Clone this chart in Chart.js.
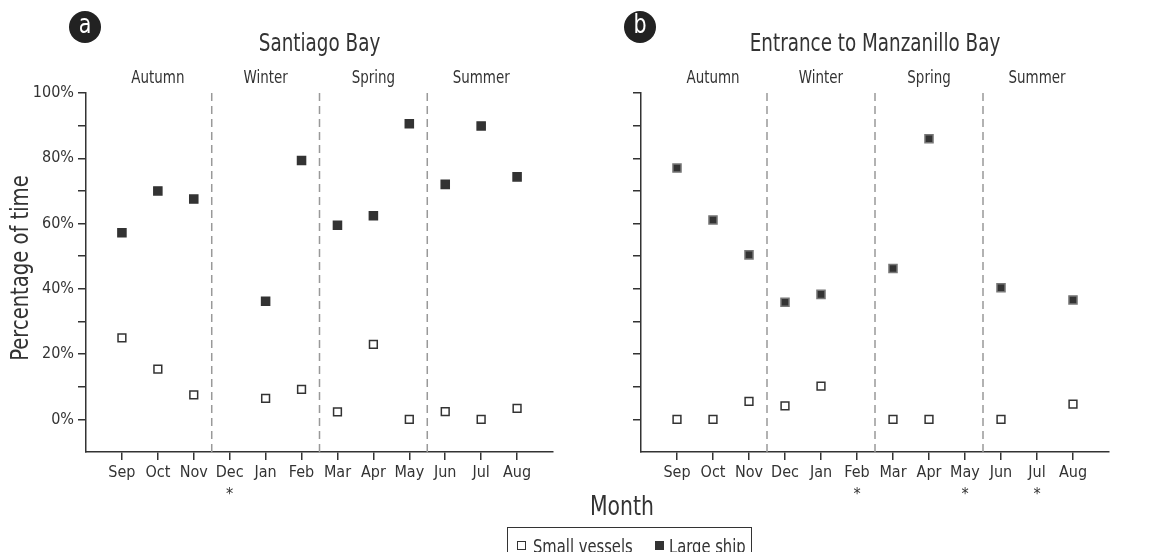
<!DOCTYPE html>
<html>
<head>
<meta charset="utf-8">
<script src="https://cdn.jsdelivr.net/npm/chart.js@4.4.0/dist/chart.umd.min.js"></script>
<style>
  body { margin: 0; background: #fff; }
  #wrap { position: relative; width: 1161px; height: 552px; overflow: hidden;
          font-family: 'DejaVu Sans Condensed', 'DejaVu Sans', sans-serif; color: #333; }
  #c1 { position: absolute; left: 0; top: 0; }
  #c2 { position: absolute; left: 570px; top: 0; }
  .txt { position: absolute; white-space: nowrap; transform-origin: left center; transform: scaleX(0.84); }
  #month { left: 590px; top: 491px; font-size: 27px; line-height: 30px; }
  #legend { position: absolute; left: 507px; top: 527px; width: 243px; height: 34px;
            border: 1px solid #333; }
  .sw { position: absolute; top: 13px; width: 7px; height: 7px; border: 1.3px solid #333; }
  .lt { top: 6px; font-size: 20px; line-height: 24px; transform: scaleX(0.82); }
</style>
</head>
<body>
<div id="wrap">
  <canvas id="c1" width="570" height="552"></canvas>
  <canvas id="c2" width="591" height="552"></canvas>
  <div id="month" class="txt">Month</div>
  <div id="legend"></div>
</div>
<script>
// month order on the x axis (Sep..Aug)
const months = ['Sep', 'Oct', 'Nov', 'Dec', 'Jan', 'Feb', 'Mar', 'Apr', 'May', 'Jun', 'Jul', 'Aug'];
const seasons = ['Autumn', 'Winter', 'Spring', 'Summer'];
const seriesNames = ['Small vessels', 'Large ship'];

// percentage of time, null = no data (*)
const santiagoSmall = [25, 15.4, 7.5, null, 6.4, 9.2, 2.3, 23, 0, 2.4, 0, 3.4];
const santiagoLarge = [57.2, 70, 67.5, null, 36.2, 79.3, 59.5, 62.4, 90.6, 72, 89.9, 74.3];
const manzSmall = [0, 0, 5.5, 4.1, 10.2, null, 0, 0, null, 0, null, 4.7];
const manzLarge = [77, 61.1, 50.4, 35.9, 38.3, null, 46.2, 86, null, 40.3, null, 36.6];

const FONT = "'DejaVu Sans Condensed', 'DejaVu Sans', sans-serif";
const INK = '#333';

function pts(arr) {
  return arr.map((v, i) => ({x: i + 1, y: v})).filter(p => p.y !== null);
}

// narrow text: the original uses a condensed face
function squeezed(ctx, text, x, y, size, sx, rot) {
  ctx.save();
  ctx.translate(x, y);
  if (rot) ctx.rotate(rot);
  ctx.scale(sx, 1);
  ctx.font = size + 'px ' + FONT;
  ctx.fillText(text, 0, 0);
  ctx.restore();
}

const decor = {
  id: 'decor',
  beforeDatasetsDraw(chart) {
    const {ctx, chartArea: a, scales: {x}} = chart;
    ctx.save();
    ctx.strokeStyle = '#999';
    ctx.lineWidth = 1.5;
    ctx.setLineDash([8, 5]);
    for (let s = 1; s < seasons.length; s++) {
      const px = x.getPixelForValue(s * 3 + 0.5);
      ctx.beginPath();
      ctx.moveTo(px, a.top);
      ctx.lineTo(px, a.bottom);
      ctx.stroke();
    }
    ctx.restore();
  },
  afterDraw(chart, args, o) {
    const {ctx, chartArea: a, scales: {x}} = chart;
    ctx.save();
    ctx.fillStyle = INK;
    ctx.textAlign = 'center';
    ctx.textBaseline = 'middle';
    squeezed(ctx, o.title, (a.left + a.right) / 2, 45, 24, 0.85);
    seasons.forEach((s, i) => {
      squeezed(ctx, s, x.getPixelForValue(i * 3 + 2), 78, 18, 0.83);
    });
    if (o.yTitle) {
      squeezed(ctx, o.yTitle, 21, 268, 25, 0.87, -Math.PI / 2);
    }
    // asterisks under months without data
    ctx.font = '16px ' + FONT;
    o.large.forEach((v, i) => {
      if (v === null) ctx.fillText('*', x.getPixelForValue(i + 1), a.bottom + 43);
    });
    // panel letter
    ctx.beginPath();
    ctx.arc(a.left - 1, 27, 16, 0, Math.PI * 2);
    ctx.fillStyle = '#222';
    ctx.fill();
    ctx.fillStyle = '#fff';
    squeezed(ctx, o.letter, a.left - 1, 26, 27, 0.85);
    ctx.restore();
  }
};

function makeChart(id, small, large, opts) {
  return new Chart(document.getElementById(id), {
    type: 'scatter',
    data: {
      datasets: [
        {label: seriesNames[0], data: pts(small), pointStyle: 'rect', pointRadius: 5.5,
         backgroundColor: '#fff', borderColor: INK, borderWidth: 1.5},
        {label: seriesNames[1], data: pts(large), pointStyle: 'rect', pointRadius: 5.7,
         backgroundColor: INK, borderColor: opts.largeBorder, borderWidth: 1.5}
      ]
    },
    options: {
      responsive: false,
      animation: false,
      events: [],
      layout: {padding: {top: 93, left: 0, right: opts.padRight, bottom: 40}},
      plugins: {
        legend: {display: false},
        tooltip: {enabled: false},
        decor: {title: opts.title, letter: opts.letter, large: large,
                yTitle: opts.yLabels ? 'Percentage of time' : ''}
      },
      scales: {
        x: {
          type: 'linear', min: 0, max: 13,
          afterBuildTicks: s => { s.ticks = months.map((m, i) => ({value: i + 1})); },
          afterFit: s => { s.height = 60; },
          ticks: {stepSize: 1, autoSkip: false, maxRotation: 0, padding: 3, color: INK,
                  font: {family: FONT, size: 16},
                  callback: v => months[v - 1] || ''},
          grid: {drawOnChartArea: false, tickLength: 8, color: INK, lineWidth: 1.5},
          border: {color: INK, width: 1.5}
        },
        y: {
          min: -10, max: 100,
          afterBuildTicks: s => { s.ticks = s.ticks.filter(t => t.value >= 0); },
          afterFit: s => { s.width = opts.yWidth; },
          ticks: {stepSize: 10, padding: 4, color: INK, font: {family: FONT, size: 16},
                  callback: v => (opts.yLabels && v % 20 === 0) ? v + '%' : ''},
          grid: {drawOnChartArea: false, tickLength: 8, color: INK, lineWidth: 1.5},
          border: {color: INK, width: 1.5}
        }
      }
    },
    plugins: [decor]
  });
}

makeChart('c1', santiagoSmall, santiagoLarge,
  {title: 'Santiago Bay', letter: 'a', padRight: 17, yWidth: 86, yLabels: true, largeBorder: INK});
makeChart('c2', manzSmall, manzLarge,
  {title: 'Entrance to Manzanillo Bay', letter: 'b', padRight: 52, yWidth: 71, yLabels: false, largeBorder: '#777'});

// legend box
const lg = document.getElementById('legend');
const swLeft = [9, 147];
const txLeft = [25, 161];
seriesNames.forEach((n, i) => {
  const sw = document.createElement('span');
  sw.className = 'sw';
  sw.style.left = swLeft[i] + 'px';
  sw.style.background = i === 0 ? '#fff' : INK;
  lg.appendChild(sw);
  const t = document.createElement('span');
  t.className = 'txt lt';
  t.style.left = txLeft[i] + 'px';
  t.textContent = n;
  lg.appendChild(t);
});
</script>
</body>
</html>
